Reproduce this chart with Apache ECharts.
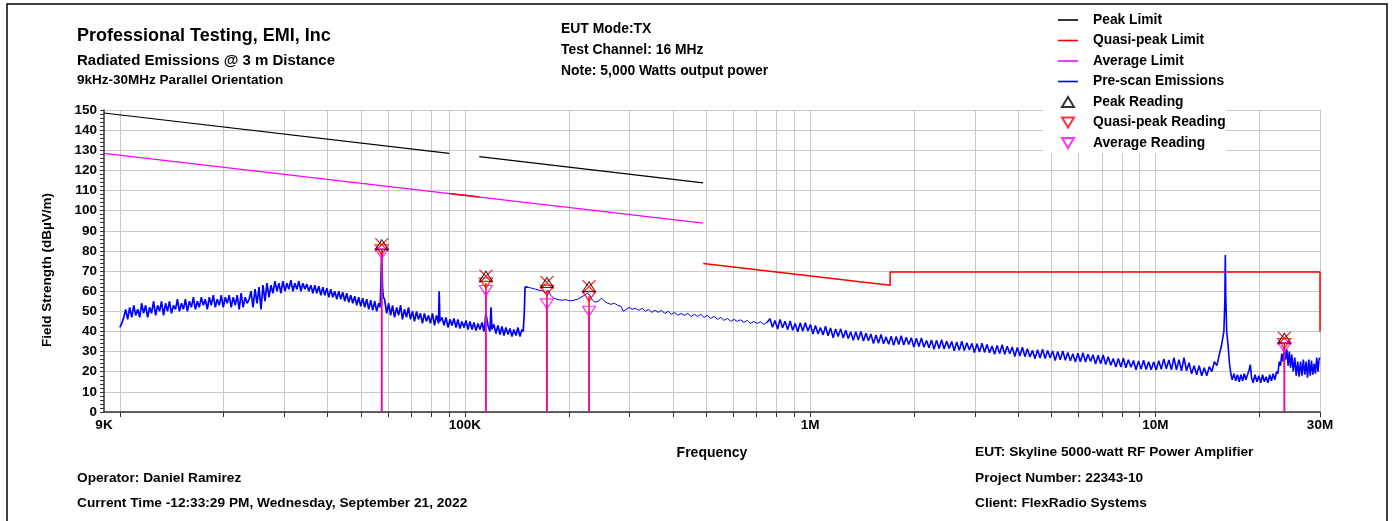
<!DOCTYPE html>
<html>
<head>
<meta charset="utf-8">
<script src="https://cdn.jsdelivr.net/npm/echarts@6/dist/echarts.min.js"></script>
<style>html,body{margin:0;padding:0;background:#fff}#c{width:1393px;height:521px}</style>
</head>
<body>
<div id="c"></div>
<script>
// ---- DATA (frequencies in kHz, levels in dBµV/m) ----
const xTickLabelValues = [9, 100, 1000, 10000, 30000];
const xTickLabels = ['9K', '100K', '1M', '10M', '30M'];
const xGridValues = [10,20,30,40,50,60,70,80,90,100,200,300,400,500,600,700,800,900,1000,2000,3000,4000,5000,6000,7000,8000,9000,10000,20000,30000];

const peakLimit = [[9,148.5],[90,128.5],[100,'-'],[110,126.8],[490,113.8]];
const quasiPeakLimit = [[90,108.5],[110,106.8],[300,'-'],[490,73.8],[1705,63],[1705,69.5],[30000,69.5],[30000,40]];
const averageLimit = [[9,128.5],[490,93.8]];

const readingFreq = [57.4, 115, 172.8, 228.8, 23650];
const peakReading = [83.1, 67.4, 64.3, 62.2, 36.6];
const quasiPeakReading = [80.6, 64.1, 60.4, 57.5, 34.0];
const averageReading = [78.7, 60.3, 53.7, 50.0, 32.0];

// pre-scan sweep, 10 kHz - 150 kHz (noisy band)
const prescanLow = [
[10.0,42],[10.13,44],[10.27,47],[10.4,51],[10.54,46],[10.68,52],[10.83,47],[10.97,53],[11.12,48],[11.27,51],[11.42,47],[11.57,54],[11.72,49],[11.88,53],[12.04,47],[12.2,52],[12.36,49],[12.53,55],[12.7,48],[12.87,53],[13.04,50],[13.21,55],[13.39,48],[13.57,54],[13.75,50],[13.93,55],[14.12,49],[14.31,53],[14.5,51],[14.69,56],[14.89,50],[15.09,54],[15.29,51],[15.49,56],[15.7,50],[15.91,55],[16.12,52],[16.34,57],[16.56,51],[16.78,55],[17.0,52],[17.23,57],[17.46,53],[17.69,56],[17.93,51],[18.17,57],[18.41,53],[18.66,58],[18.91,52],[19.16,56],[19.42,53],[19.68,58],[19.94,52],[20.21,57],[20.48,54],[20.75,58],[21.03,52],[21.31,57],[21.6,53],[21.88,58],[22.18,51],[22.47,59],[22.77,52],[23.08,57],[23.39,54],[23.7,56],[24.0,60],
[24.32,52],[24.65,61],[24.98,54],[25.31,62],[25.65,51],[25.99,63],[26.34,55],[26.69,64],[27.05,57],[27.41,63],[27.78,59],[28.15,65],[28.53,60],[28.91,64],[29.3,59],[29.69,65],[30.09,60],[30.49,64],[30.9,61],[31.31,65.5],[31.73,60],[32.16,64],[32.59,61],[33.02,65],[33.47,60],[33.91,64],[34.37,61],[34.83,63.5],[35.29,60],[35.77,63],
[36.25,59],[36.73,63],[37.22,59],[37.72,62.5],[38.23,58],[38.74,62],[39.26,58],[39.79,61.5],[40.32,57],[40.86,61],[41.41,57],[41.96,60],[42.53,56],[43.1,60],[43.67,56],[44.26,59.5],[44.85,55],[45.45,59],[46.06,54.5],[46.68,58],[47.31,54],[47.94,57.5],[48.58,53],[49.23,57],[49.89,52.5],[50.56,56.5],[51.24,52],[51.93,56],[52.62,51],[53.33,55.5],[54.04,50.5],[54.77,55],[55.5,50],[56.25,54],[56.8,52],[57.1,66],[57.4,80],[57.7,62],[58.0,57],
[58.5,56],[59.3,49],[60.1,54],[60.9,48],[61.7,53],[62.5,47],[63.4,52],[64.2,48],[65.1,53],[65.9,46],[66.8,51],[67.7,47],[68.6,52],[69.5,46],[70.5,50],[71.4,45],[72.4,50],[73.3,46],[74.3,49],[75.3,44],[76.3,49],[77.3,45],[78.4,48],[79.4,44],[80.5,49],[81.6,43],[82.7,48],[83.8,44],[84.2,60],[84.6,45],[85.8,47],[86.9,43],[88.1,47],[89.3,42],[90.5,46],[91.7,43],[92.9,46.5],[94.2,42],[95.4,46],[96.7,41.5],[98.0,45],[99.3,42],[100.7,45.5],[102.0,41],[103.4,45],[104.8,41],[106.2,44.5],[107.6,40.5],[109.1,44],[110.5,41],[112.0,44.5],[113.5,40],[115.0,49],[116.6,43],[118.1,40],[119.0,52],[119.7,41],[121.3,43.5],[122.9,39],[124.6,43],[126.3,38.5],[128.0,42.5],[129.7,38],[131.4,42],[133.2,38.5],[135.0,41.5],[136.8,37.5],[138.6,41],[140.5,38],[142.4,42],[144.3,37.5],[146.2,41],[147.5,40],[148.6,50],[149.3,62],[152,62]
];
// pre-scan sweep, 150 kHz - 765 kHz (clean trace)
const prescanMid = [
[149.3,62],[152,62],[156,61.5],[160,61],[164,60.5],[168,60.2],[171,59],[174,60.5],[177,58],[181,56.5],[186,55.8],[191,55.5],[196,55.8],[201,55.2],[207,55.5],[212,56],[217,57],[222,58],[226,59],[230,58],[234,55.5],[238,54.5],[243,55],[249,56.5],[254,55],[259,54],[265,53.5],[271,54],[277,53],[283,52.5],[288,50],[293,51],[299,52],[305,51],[312,51.5],[319,50.5],[326,51.5],[333,50],[340,51],[348,49.5],[355,50.5],[363,49.5],[371,50.5],[379,49],[388,50],[396,48.5],[405,49.5],[414,48],[423,49],[432,48],[442,49],[452,47.5],[462,48.5],[472,47.5],[482,48.5],[493,47],[504,48],[515,46.5],[527,47.5],[539,46],[551,47],[563,45.5],[576,46.5],[589,45],[602,46],[615,45],[629,45.8],[643,44.5],[657,45.5],[672,44],[687,45],[702,44],[718,44.8],[734,43.5],[750,44.5],[765,46.3]
];
// pre-scan sweep, 765 kHz - 30 MHz (noisy band)
const prescanHigh = [
[750,44.5],[765,46.3],[778,42.1],[791,45.4],[805,41.2],[818,46],[832,41.8],[846,45.1],[861,40.9],[875,45.2],[890,40.6],[905,44],[921,39.9],[936,44.3],[952,40.1],[968,44.4],[985,40.2],[1002,43.5],[1019,38.7],[1036,43],[1054,38.8],[1071,42],[1090,38.3],[1108,42.6],[1127,37.9],[1146,41.7],[1166,36.9],[1185,41.2],[1205,37.5],[1226,41.3],[1247,36.7],[1268,40.6],[1289,36.5],[1311,39.8],[1334,35.6],[1356,39.9],[1379,35.7],[1403,40],[1427,35.3],[1451,39.1],[1475,35.4],[1500,38.7],[1526,34],[1552,38.3],[1578,34.2],[1605,38.5],[1632,33.9],[1660,37.3],[1688,33.7],[1717,37.6],[1746,33.1],[1775,37.5],[1806,33.5],[1836,37.9],[1867,33.3],[1899,37.1],[1931,33.5],[1964,36.9],[1997,32.2],[2031,36.6],[2066,32.5],[2101,36.8],[2136,32.2],[2173,35.5],[2210,31.9],[2247,35.8],[2285,31.2],[2324,35.6],[2364,31.5],[2404,35.9],[2444,31.3],[2486,35.2],[2528,31.6],[2571,35],[2615,30.4],[2659,34.8],[2704,30.7],[2750,35.1],[2797,30.5],[2844,34.4],[2893,30.8],[2942,34.1],[2992,29.5],[3043,33.9],[3094,29.8],[3147,34.2],[3200,29.6],[3254,33.5],[3310,29.4],[3366,32.8],[3423,28.7],[3481,33.1],[3540,29],[3600,33.4],[3662,28.7],[3724,32.6],[3787,28.9],[3851,32.3],[3917,27.6],[3983,32],[4051,27.8],[4120,32.2],[4190,27.5],[4261,31.4],[4333,27.3],[4407,30.6],[4482,26.5],[4558,30.9],[4635,26.8],[4714,31.2],[4794,26.6],[4875,30.5],[4958,26.9],[5042,30.3],[5128,25.6],[5215,30],[5303,25.9],[5393,30.3],[5485,25.7],[5578,29.6],[5673,25.5],[5769,28.9],[5867,24.8],[5967,29.2],[6068,25],[6172,29.4],[6277,24.8],[6383,28.7],[6492,25.1],[6602,28.4],[6714,23.8],[6828,28.2],[6944,24],[7062,28.3],[7182,23.6],[7304,27.4],[7428,23.2],[7554,26.5],[7683,22.3],[7813,26.6],[7946,22.4],[8081,26.7],[8218,22],[8358,25.9],[8500,22.2],[8645,25.6],[8792,21],[8941,25.4],[9093,21.3],[9248,25.7],[9405,21.1],[9565,25],[9727,21],[9893,24.9],[10061,20.9],[10232,25.5],[10406,21.2],[10583,26.4],[10763,21.5],[10946,25.8],[11132,21],[11321,27],[11513,21],[11709,26],[11908,20.5],[12110,27],[12316,20.5],[12526,24.5],[12739,19],[12955,23],[13175,18.5],[13399,23],[13627,18],[13859,22],[14095,18],[14334,22.5],[14578,20],[14826,25],[15078,23],
[15300,28],[15550,33],[15800,40],[15900,55],[15950,78],[16000,58],[16100,40],[16250,33],[16400,24],[16550,19],[16700,16],[16900,19],[17100,15.5],[17300,18.5],[17500,15],[17700,18.5],[17900,15.5],[18100,19],[18300,16],[18500,18.5],[18700,21],[18850,23.5],[19000,17],[19200,14.5],[19450,18.5],[19700,15],[19950,18],[20200,14.5],[20450,18.5],[20700,15],[20950,17.5],[21200,14.5],[21450,18.5],[21700,15.5],[21950,19],[22200,16],[22450,20],[22650,19],[22850,25],[23050,23],[23250,29],[23450,25],[23650,32],[23850,26],[24050,31],[24250,23],[24450,30],[24650,22],[24850,28.5],[25100,20],[25350,27],[25600,18],[25850,25],[26100,17.5],[26350,25],[26600,18],[26850,26],[27100,18.5],[27350,25],[27600,17],[27850,26],[28100,18],[28350,25.5],[28600,18.5],[28850,24],[29100,19],[29350,27],[29600,20],[29800,26],[30000,27]
];

// ---- build ----
const FONT = "'Liberation Sans', Arial, sans-serif";
const stemLow = [], stemMid = [];
readingFreq.forEach((f, i) => {
  stemLow.push([f, averageReading[i]], [f, 0], [f, '-']);
  stemMid.push([f, quasiPeakReading[i]], [f, averageReading[i]], [f, '-']);
});
const zip = (ys) => readingFreq.map((f, i) => [f, ys[i]]);

const chart = echarts.init(document.getElementById('c'), null, {renderer: 'canvas'});
const txt = (x, y, text, size) => ({
  type: 'text', x: x, y: y, silent: true,
  style: {text: text, font: 'bold ' + size + 'px ' + FONT, fill: '#000', verticalAlign: 'middle', align: 'left'}
});
const LINE_ICON = 'path://M0,0H20V1.6H0Z';
const UP_ICON = 'path://M6,0L12,10L0,10Z';
const DOWN_ICON = 'path://M0,0L12,0L6,10Z';
const prescanSeries = (data, w) => ({
  name: 'Pre-scan Emissions', type: 'line', data: data, symbol: 'none',
  lineStyle: {color: '#0000ff', width: w}, itemStyle: {color: '#0000ff'}, z: 5
});

chart.setOption({
  animation: false,
  backgroundColor: '#fff',
  grid: {left: 104, right: 73, top: 110, bottom: 109, containLabel: false},
  xAxis: {
    type: 'log', logBase: 10, min: 9, max: 30000,
    name: 'Frequency', nameLocation: 'middle', nameGap: 34,
    nameTextStyle: {fontFamily: FONT, fontWeight: 'bold', fontSize: 14, color: '#000'},
    axisLine: {show: true, lineStyle: {color: '#333', width: 1.5}},
    axisTick: {show: true, length: 5, customValues: xGridValues, lineStyle: {color: '#333'}},
    axisLabel: {
      show: true, customValues: xTickLabelValues, margin: 6,
      fontFamily: FONT, fontWeight: 'bold', fontSize: 13.5, color: '#000',
      formatter: (v) => { const i = xTickLabelValues.findIndex(t => Math.abs(t - v) / t < 1e-6); return i >= 0 ? xTickLabels[i] : ''; }
    },
    splitLine: {show: true, lineStyle: {color: '#c8c8c8', width: 1}},
    minorTick: {show: false}, minorSplitLine: {show: false}
  },
  yAxis: {
    type: 'value', min: 0, max: 150, interval: 10,
    name: 'Field Strength (dBµV/m)', nameLocation: 'middle', nameGap: 50,
    nameTextStyle: {fontFamily: FONT, fontWeight: 'bold', fontSize: 13.5, color: '#000', padding: [0, 18, 0, 0]},
    axisLine: {show: true, lineStyle: {color: '#333', width: 1.5}},
    axisTick: {show: true, length: 4, lineStyle: {color: '#333'}},
    minorTick: {show: true, splitNumber: 5, length: 4, lineStyle: {color: '#333'}},
    axisLabel: {fontFamily: FONT, fontWeight: 'bold', fontSize: 13.5, color: '#000', margin: 7},
    splitLine: {show: true, lineStyle: {color: '#c8c8c8', width: 1}}
  },
  legend: {
    orient: 'vertical', left: 1043, top: 10, padding: [3, 0, 3, 15],
    itemWidth: 20, itemHeight: 10, itemGap: 6.5, backgroundColor: '#fff',
    textStyle: {fontFamily: FONT, fontWeight: 'bold', fontSize: 13.8, color: '#000', lineHeight: 14, padding: [0, 0, 0, 10]},
    data: [
      {name: 'Peak Limit', icon: LINE_ICON},
      {name: 'Quasi-peak Limit', icon: LINE_ICON},
      {name: 'Average Limit', icon: LINE_ICON},
      {name: 'Pre-scan Emissions', icon: LINE_ICON},
      {name: 'Peak Reading', icon: UP_ICON},
      {name: 'Quasi-peak Reading', icon: DOWN_ICON},
      {name: 'Average Reading', icon: DOWN_ICON}
    ]
  },
  graphic: [
    {type: 'rect', silent: true, shape: {x: 7, y: 4, width: 1380, height: 540}, style: {fill: 'none', stroke: '#000', lineWidth: 1.5}},
    txt(77, 36, 'Professional Testing, EMI, Inc', 18),
    txt(77, 61, 'Radiated Emissions @ 3 m Distance', 15),
    txt(77, 80, '9kHz-30MHz Parallel Orientation', 13.5),
    txt(561, 29, 'EUT Mode:TX', 13.9),
    txt(561, 50, 'Test Channel: 16 MHz', 13.9),
    txt(561, 71, 'Note: 5,000 Watts output power', 13.9),
    txt(77, 478, 'Operator: Daniel Ramirez', 13.7),
    txt(77, 503, 'Current Time -12:33:29 PM, Wednesday, September 21, 2022', 13.7),
    txt(975, 452, 'EUT: Skyline 5000-watt RF Power Amplifier', 13.7),
    txt(975, 478, 'Project Number: 22343-10', 13.7),
    txt(975, 503, 'Client: FlexRadio Systems', 13.7)
  ],
  series: [
    {name: 'Peak Limit', type: 'line', data: peakLimit, symbol: 'none', connectNulls: false,
     lineStyle: {color: '#000', width: 1.2}, itemStyle: {color: '#000'}, z: 3},
    {name: 'Average Limit', type: 'line', data: averageLimit, symbol: 'none',
     lineStyle: {color: '#ff00ff', width: 1.2}, itemStyle: {color: '#ff00ff'}, z: 3},
    {name: 'Quasi-peak Limit', type: 'line', data: quasiPeakLimit, symbol: 'none', connectNulls: false,
     lineStyle: {color: '#ff0000', width: 1.5}, itemStyle: {color: '#ff0000'}, z: 4},
    prescanSeries(prescanLow, 1.7),
    prescanSeries(prescanMid, 1.0),
    prescanSeries(prescanHigh, 1.6),
    {name: 'stemLow', type: 'line', data: stemLow, symbol: 'none', connectNulls: false,
     lineStyle: {color: '#e4179c', width: 2}, z: 6},
    {name: 'stemMid', type: 'line', data: stemMid, symbol: 'none', connectNulls: false,
     lineStyle: {color: '#ff1010', width: 1.5}, z: 6},
    {name: 'cross', type: 'scatter', data: zip(peakReading), symbol: 'path://M0,0L10,10M10,0L0,10', symbolSize: 13,
     itemStyle: {color: 'none', borderColor: '#ff0000', borderWidth: 1.3}, z: 7},
    {name: 'Average Reading', type: 'scatter', data: zip(averageReading), symbol: 'triangle', symbolRotate: 180, symbolSize: [13, 10],
     itemStyle: {color: 'rgba(255,255,255,0)', borderColor: '#ff00ff', borderWidth: 1.2}, z: 8},
    {name: 'Quasi-peak Reading', type: 'scatter', data: zip(quasiPeakReading), symbol: 'triangle', symbolRotate: 180, symbolSize: [13, 10],
     itemStyle: {color: 'rgba(255,255,255,0)', borderColor: '#ff0000', borderWidth: 1.3}, z: 9},
    {name: 'Peak Reading', type: 'scatter', data: zip(peakReading), symbol: 'triangle', symbolSize: [13, 10],
     itemStyle: {color: 'rgba(255,255,255,0)', borderColor: '#000', borderWidth: 1}, z: 10}
  ]
});
</script>
</body>
</html>
